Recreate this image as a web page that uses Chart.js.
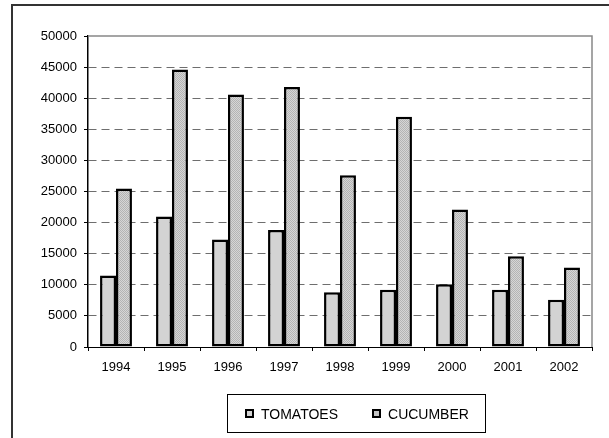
<!DOCTYPE html>
<html>
<head>
<meta charset="utf-8">
<script src="https://cdn.jsdelivr.net/npm/chart.js@4/dist/chart.umd.min.js"></script>
<style>
  html, body { margin: 0; padding: 0; background: #fff; }
  #wrap { position: relative; width: 609px; height: 438px; overflow: hidden; }
  #frame { position: absolute; left: 11px; top: 4px; width: 620px; height: 460px;
           border-top: 2px solid #333; border-left: 2px solid #333; }
  #legend { position: absolute; left: 227px; top: 394px; width: 257px; height: 37px;
            border: 1px solid #000; display: flex; align-items: center; justify-content: flex-start;
            box-sizing: content-box; padding-left: 0;
            font-family: "Liberation Sans", Arial, sans-serif; font-size: 14px; color: #000; }
  .item { display: flex; align-items: center; margin-left: 17px; }
  .item + .item { margin-left: 34px; }
  .sw { width: 5px; height: 5px; border: 2px solid #000; margin-right: 7px; }
</style>
</head>
<body>
<div id="wrap">
  <canvas id="grafico" width="609" height="438"></canvas>
  <div id="frame"></div>
  <div id="legend"></div>
</div>
<script>
var years = ["1994", "1995", "1996", "1997", "1998", "1999", "2000", "2001", "2002"];
var tomatoes = [11500, 21000, 17300, 18800, 8800, 9200, 10100, 9200, 7600];
var cucumber = [25500, 44600, 40600, 41800, 27600, 37000, 22100, 14600, 12800];
var seriesNames = ["TOMATOES", "CUCUMBER"];

var ctx = document.getElementById("grafico").getContext("2d");

// patron punteado para el pepino
var patron = ctx.createPattern((function () {
  var c = document.createElement("canvas");
  c.width = 2; c.height = 2;
  var p = c.getContext("2d");
  p.fillStyle = "#d6d6d6"; p.fillRect(0, 0, 2, 2);
  p.fillStyle = "#b4b4b4"; p.fillRect(0, 0, 1, 1); p.fillRect(1, 1, 1, 1);
  return c;
})(), "repeat");
var fills = ["#d3d3d3", patron];
var swatchFills = ["#d3d3d3", "#c4c4c4"];

// marco gris del area de trazado (arriba y derecha)
var marcoPlot = {
  id: "marcoPlot",
  afterDraw: function (chart) {
    var a = chart.chartArea, c = chart.ctx;
    c.save();
    c.strokeStyle = "#888";
    c.lineWidth = 1.5;
    c.beginPath();
    c.moveTo(a.left, a.top);
    c.lineTo(a.right, a.top);
    c.lineTo(a.right, a.bottom);
    c.stroke();
    c.restore();
  }
};

var chart = new Chart(ctx, {
  type: "bar",
  data: {
    labels: years,
    datasets: [
      { label: seriesNames[0], data: tomatoes, backgroundColor: fills[0], borderColor: "#000", borderWidth: 2.5,
        borderSkipped: false, categoryPercentage: 0.57, barPercentage: 1.0 },
      { label: seriesNames[1], data: cucumber, backgroundColor: fills[1], borderColor: "#000", borderWidth: 2.5,
        borderSkipped: false, categoryPercentage: 0.57, barPercentage: 1.0 }
    ]
  },
  options: {
    responsive: false,
    animation: false,
    layout: { padding: { top: 36, right: 17, left: 0, bottom: 51 } },
    plugins: { legend: { display: false }, tooltip: { enabled: false } },
    scales: {
      x: {
        grid: { offset: true, drawOnChartArea: false, drawTicks: true, tickLength: 4, tickColor: "#000", color: "#000" },
        border: { display: true, color: "#000", width: 1 },
        ticks: { color: "#000", padding: 9, maxRotation: 0, font: { family: "Liberation Sans", size: 13 } },
        afterFit: function (s) { s.height = 40; }
      },
      y: {
        min: 0,
        max: 50000,
        ticks: {
          stepSize: 5000, color: "#000", padding: 7,
          font: { family: "Liberation Sans", size: 13 },
          callback: function (v) { return String(v); }
        },
        grid: {
          color: function (c) { return (c.tick && (c.tick.value === 0 || c.tick.value === 50000)) ? "rgba(0,0,0,0)" : "#6e6e6e"; },
          lineWidth: 1,
          tickLength: 4,
          tickColor: "#000"
        },
        border: { display: true, color: "#000", width: 1.5, dash: [8, 5] },
        afterFit: function (s) { s.width = 88; }
      }
    }
  },
  plugins: [marcoPlot]
});

// leyenda con recuadro
var leg = document.getElementById("legend");
seriesNames.forEach(function (n, i) {
  var it = document.createElement("div");
  it.className = "item";
  var sw = document.createElement("span");
  sw.className = "sw";
  sw.style.background = swatchFills[i];
  var tx = document.createElement("span");
  tx.textContent = n;
  it.appendChild(sw); it.appendChild(tx);
  leg.appendChild(it);
});
</script>
</body>
</html>
